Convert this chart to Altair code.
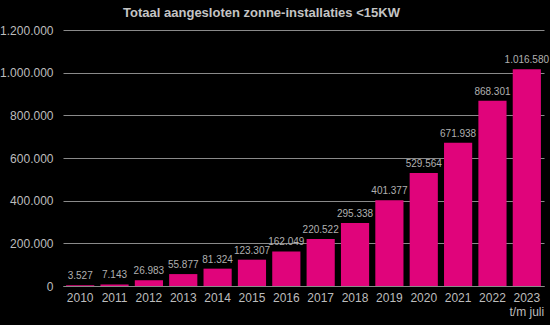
import altair as alt
import pandas as pd

years = ["2010", "2011", "2012", "2013", "2014", "2015", "2016",
         "2017", "2018", "2019", "2020", "2021", "2022", "2023"]
values = [3527, 7143, 26983, 55877, 81324, 123307, 162049,
          220522, 295338, 401377, 529564, 671938, 868301, 1016580]

df = pd.DataFrame({"year": years, "value": values})

FONT = "Liberation Sans"
GREY = "#bdbdbd"
PINK = "#e0047b"

x = alt.X(
    "year:N",
    sort=years,
    title=None,
    scale=alt.Scale(paddingInner=0.18, paddingOuter=0.09),
    axis=alt.Axis(
        labelAngle=0,
        ticks=False,
        grid=False,
        domain=True,
        domainColor="#8a8a8a",
        labelColor=GREY,
        labelFont=FONT,
        labelFontSize=12,
        labelPadding=6,
        labelLineHeight=14,
        labelExpr="datum.value == '2023' ? ['2023', 't/m juli'] : datum.value",
    ),
)

y = alt.Y(
    "value:Q",
    title=None,
    scale=alt.Scale(domain=[0, 1200000]),
    axis=alt.Axis(
        values=[0, 200000, 400000, 600000, 800000, 1000000, 1200000],
        format=",d",
        domain=False,
        ticks=False,
        grid=True,
        gridColor="#8a8a8a",
        gridWidth=1,
        labelColor=GREY,
        labelFont=FONT,
        labelFontSize=12,
        labelPadding=10,
    ),
)

bars = alt.Chart(df).mark_bar(color=PINK).encode(x=x, y=y)

labels = alt.Chart(df).mark_text(
    baseline="bottom", dy=-4, color="#b0b0b0", font=FONT, fontSize=10
).encode(x=alt.X("year:N", sort=years), y="value:Q", text=alt.Text("value:Q", format=",d"))

chart = (
    alt.layer(bars, labels)
    .properties(
        width=481,
        height=256,
        background="black",
        view=alt.ViewBackground(stroke="transparent", strokeWidth=0),
        autosize=alt.AutoSizeParams(type="none"),
        padding={"left": 63, "top": 30, "right": 6, "bottom": 39},
        title=alt.TitleParams(
            "Totaal aangesloten zonne-installaties <15KW",
            color="#c4c4c4",
            font=FONT,
            fontSize=13,
            fontWeight="bold",
            anchor="middle",
            dx=-42,
            offset=4,
        ),
    )
    .configure(
        view={"stroke": "transparent", "strokeWidth": 0},
        locale={
            "number": {
                "decimal": ",",
                "thousands": ".",
                "grouping": [3],
                "currency": ["€", ""],
            }
        },
    )
)

chart.save("out.html", embed_options={"renderer": "svg", "actions": False})
